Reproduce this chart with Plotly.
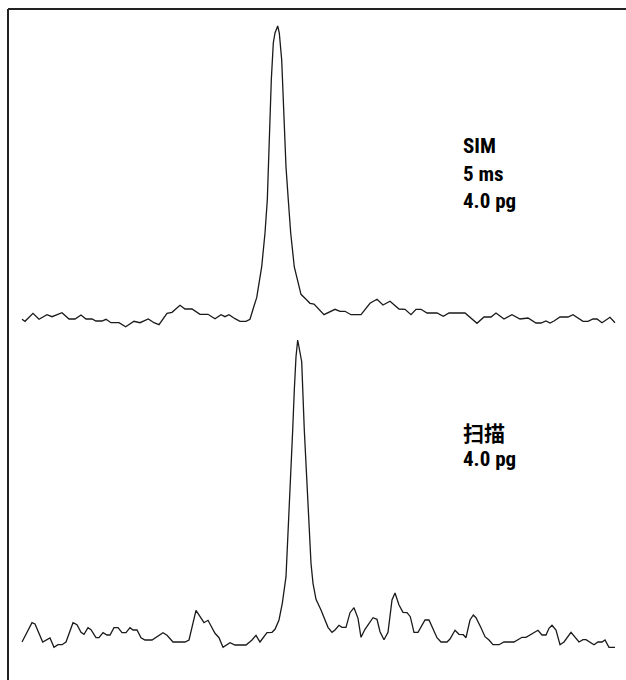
import plotly.graph_objects as go

# ---- data (x = retention time in arbitrary units, y = relative intensity) ----
sim_time = [22, 25, 33, 39, 47, 52, 62, 69, 75, 81, 86, 92, 96, 102, 106, 111, 119, 125.7, 134, 140,
            148.3, 154, 159, 163, 167, 172, 180, 185, 192, 200, 208, 215, 221, 225, 229, 235, 240, 246,
            250, 254, 256.7, 261.7, 265, 267.3, 269.3, 271.3, 273.3, 275, 277.7, 279.3, 281.7, 284, 286,
            288.3, 290.7, 294.3, 301, 306, 310, 314, 324, 335, 340, 345, 351, 361, 370, 377, 383, 390,
            399, 405, 411, 416, 421, 427, 437, 443.3, 449, 465, 471, 477, 484, 491, 496, 504, 512, 520,
            528, 536, 541, 546, 550, 554, 560, 568, 573, 583, 588, 593, 597, 602, 610, 615]
sim_int = [10.7, 8.7, 16.7, 10.7, 15.3, 13.3, 17.3, 11, 11, 15, 11, 11, 9, 9, 10.7, 7.3, 7.3, 3.3, 8.7,
           7.3, 11, 7.3, 5.3, 10.7, 16.7, 17.7, 24.7, 21, 21, 15.7, 15.7, 11.3, 15.3, 13.3, 15.3, 11.3,
           8.7, 8.7, 10.7, 24, 32.3, 63.3, 97, 130, 197, 250, 287, 297, 304, 297, 270, 213, 163, 130,
           97, 63, 35.7, 30.7, 26.7, 26, 15.3, 20.7, 18.7, 18.7, 15.3, 15.3, 26.7, 30.7, 25, 28.7, 21,
           20.7, 15.3, 20.7, 20.7, 17, 17, 13.7, 17, 17, 11.7, 6.7, 13, 13, 17, 11, 15.3, 11, 12, 7, 7,
           9, 7, 9, 13, 13, 15.3, 8.7, 8.7, 11, 11, 7.3, 12.7, 7.3]

scan_time = [22, 32, 35, 42.7, 50, 54, 58, 62, 66, 73, 77, 81, 84, 88, 91, 96, 99, 103, 107, 110, 114,
             118, 122, 126, 130, 133, 137, 141, 145, 152, 163, 167, 173, 185, 189, 196, 204, 208, 215,
             219, 223, 230, 235, 246, 252, 256, 260, 267, 272, 275, 279, 282.3, 286, 288.3, 290.7,
             292.7, 294.3, 296, 297.7, 301.7, 304.3, 306.7, 309, 311, 313, 316, 321, 324, 328, 332, 335,
             339, 342, 346, 350, 354, 358, 361, 365, 373, 377, 380, 384, 388, 392, 395, 399, 403, 407,
             410.3, 414, 418, 425, 429, 433, 437, 441, 447, 450, 455, 459, 463.3, 466, 470, 473.3, 476,
             481, 485, 489, 493, 499, 504, 514, 522, 526, 531, 538, 542, 546, 549, 552, 556, 560, 564,
             571, 579, 583, 586, 594, 598, 602, 605, 609, 615]
scan_int = [8, 27.3, 26, 8, 12, 2.7, 5.3, 5.3, 8, 27.3, 25.3, 17.7, 15.7, 22.3, 20.3, 12.3, 12.3, 17.3,
            15, 15, 22.3, 22.3, 17.3, 17.3, 22.3, 20, 20, 12.3, 10, 10, 17.3, 14.7, 8, 8, 10, 39.7,
            27.3, 29.7, 16.7, 12.3, 2.7, 7.3, 5, 5, 10, 14.7, 8, 17.3, 17.7, 20.7, 30, 46.7, 73.3, 120,
            170, 220, 260, 293.3, 310, 288.3, 220, 170, 120, 86.7, 66.7, 50.7, 40, 33.3, 22.7, 17.7, 20,
            24.7, 22.7, 22.7, 37.3, 42.3, 31.7, 12.7, 20.7, 32.3, 30.7, 18.3, 10.3, 17.7, 50, 57, 45,
            37.7, 37.3, 33.3, 17.7, 17.7, 30, 30, 21.7, 12.3, 8, 8, 11, 19.7, 15.7, 15.3, 12.3, 30, 35,
            32.3, 22.3, 13.3, 10, 5.3, 5.3, 8, 8, 12.7, 12.7, 15.3, 19.7, 15, 15, 21.7, 24.7, 20, 5.3,
            8, 17.7, 8, 10.3, 10.3, 5.3, 8, 8, 10, 2.7, 2.7]

sim_labels = ["SIM", "5 ms", "4.0 pg"]
scan_labels = ["扫描", "4.0 pg"]

W, H = 626, 680
line_style = dict(color="#1a1a1a", width=1.3)

fig = go.Figure()
fig.add_trace(go.Scatter(x=sim_time, y=sim_int, mode="lines", line=line_style,
                         xaxis="x", yaxis="y", hoverinfo="skip"))
fig.add_trace(go.Scatter(x=scan_time, y=scan_int, mode="lines", line=line_style,
                         xaxis="x", yaxis="y2", hoverinfo="skip"))

font_family = "Liberation Sans Narrow, Roboto Condensed, Arial Narrow, Noto Sans CJK SC, Roboto, sans-serif"
label_font = dict(size=21, color="#000000", family=font_family, weight=900)
annotations = []
for i, t in enumerate(sim_labels):
    annotations.append(dict(text=f"<b>{t}</b>", x=461 / W, y=1 - (146 + 27.5 * i) / H,
                            xref="paper", yref="paper", xanchor="left", yanchor="middle",
                            showarrow=False, font=label_font))
for i, t in enumerate(scan_labels):
    annotations.append(dict(text=f"<b>{t}</b>", x=461 / W, y=1 - (434 + 25 * i) / H,
                            xref="paper", yref="paper", xanchor="left", yanchor="middle",
                            showarrow=False, font=label_font))

fig.update_layout(
    width=W, height=H,
    margin=dict(l=0, r=0, t=0, b=0),
    paper_bgcolor="white", plot_bgcolor="white",
    showlegend=False,
    xaxis=dict(range=[0, W], visible=False, fixedrange=True),
    yaxis=dict(range=[-350, 330], visible=False, fixedrange=True),
    yaxis2=dict(range=[-30, 650], visible=False, overlaying="y", fixedrange=True),
    annotations=annotations,
    shapes=[
        dict(type="line", xref="paper", yref="paper", x0=8 / W, x1=1, y0=1 - 9 / H, y1=1 - 9 / H,
             line=dict(color="#222222", width=2)),
        dict(type="line", xref="paper", yref="paper", x0=8 / W, x1=8 / W, y0=0, y1=1 - 9 / H,
             line=dict(color="#222222", width=2)),
    ],
)

fig.write_html("out.html")
